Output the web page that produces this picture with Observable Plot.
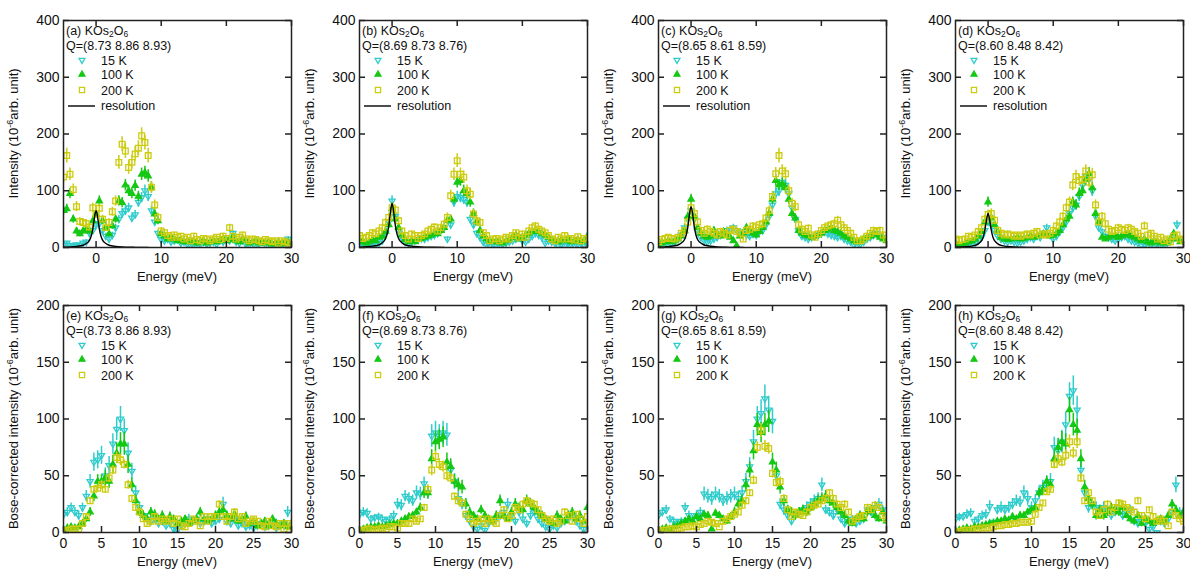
<!DOCTYPE html>
<html><head><meta charset="utf-8">
<script src="https://cdn.jsdelivr.net/npm/d3@7"></script>
<script src="https://cdn.jsdelivr.net/npm/@observablehq/plot@0.6"></script>
<style>
body{margin:0;background:#fff;}
#chart{position:relative;width:1190px;height:571px;font-family:"Liberation Sans",Arial,sans-serif;}
#chart svg{position:absolute;overflow:visible;}
</style></head><body><div id="chart"></div>
<script>
// ---------- energy grids (meV) ----------
const energyTop = [-5,-4.5,-4,-3.5,-3,-2.5,-2,-1.5,-1,-0.5,0,0.5,1,1.5,2,2.5,3,3.5,4,4.5,5,5.5,6,6.5,7,7.5,8,8.5,9,9.5,10,10.5,11,11.5,12,12.5,13,13.5,14,14.5,15,15.5,16,16.5,17,17.5,18,18.5,19,19.5,20,20.5,21,21.5,22,22.5,23,23.5,24,24.5,25,25.5,26,26.5,27,27.5,28,28.5,29,29.5,30];
const energyBottom = [0,0.5,1,1.5,2,2.5,3,3.5,4,4.5,5,5.5,6,6.5,7,7.5,8,8.5,9,9.5,10,10.5,11,11.5,12,12.5,13,13.5,14,14.5,15,15.5,16,16.5,17,17.5,18,18.5,19,19.5,20,20.5,21,21.5,22,22.5,23,23.5,24,24.5,25,25.5,26,26.5,27,27.5,28,28.5,29,29.5,30];
const xTicksTop = [0,10,20,30];
const xTicksBottom = [0,5,10,15,20,25,30];
const yTicksTop = [0,100,200,300,400];
const yTicksBottom = [0,50,100,150,200];
const temperatures = ["15 K","100 K","200 K"];
const panelLetters = ["a","b","c","d","e","f","g","h"];
const qValues = ["8.73 8.86 8.93","8.69 8.73 8.76","8.65 8.61 8.59","8.60 8.48 8.42","8.73 8.86 8.93","8.69 8.73 8.76","8.65 8.61 8.59","8.60 8.48 8.42"];

// ---------- (a) ----------
const I15a = [5,8,4,3,5,4,8,10,25,30, 40,42,30,20,15,22,35,50,60,65, 70,52,58,80,88,100,90,65,45,25, 14,12,15,10,12,14,8,10,6,4, 5,8,5,10,6,8,10,6,12,10, 15,12,25,10,8,12,6,5,8,4, 6,10,5,8,6,4,8,5,10,15, 8];
const I100a = [65,68,95,50,29,24,29,32,29,47, 59,82,47,35,24,38,50,82,79,110, 100,95,109,90,129,132,126,106,59,47, 24,20,15,18,15,12,14,10,12,10, 12,8,10,12,8,10,12,10,12,15, 12,14,18,12,10,15,12,8,10,12, 8,10,8,10,6,8,10,6,8,10, 8];
const I200a = [124,162,129,102,72,46,44,42,36,70, 59,69,50,35,44,63,82,150,182,170, 141,150,165,175,197,185,162,106,75,53, 29,26,21,18,22,18,20,15,18,12, 20,14,12,16,15,12,15,18,14,20, 16,35,20,15,18,22,15,12,15,14, 12,10,14,12,10,12,8,12,10,8, 5];
const E15a = [3,3,3,2,3,3,3,4,5,6, 6,6,6,5,4,5,6,7,8,8, 8,7,7,9,9,10,9,8,7,5, 4,4,4,4,4,4,3,4,3,3, 3,3,3,4,3,3,4,3,4,4, 4,4,5,4,3,4,3,3,3,3, 3,4,3,3,3,3,3,3,4,4, 3];
const E100a = [8,8,9,7,6,5,6,6,6,7, 7,9,7,6,5,6,7,9,9,10, 10,9,10,9,11,11,11,10,8,7, 5,5,4,5,4,4,4,4,4,4, 4,3,4,4,3,4,4,4,4,4, 4,4,5,4,4,4,4,3,4,4, 3,4,3,4,3,3,4,3,3,4, 3];
const E200a = [11,13,11,10,9,7,7,7,6,8, 8,8,7,6,7,8,9,12,13,13, 12,12,13,13,14,13,13,10,9,8, 6,5,5,5,5,5,5,4,5,4, 5,4,4,5,5,4,5,5,4,5, 5,6,5,4,5,5,4,4,4,4, 4,4,4,4,4,4,3,4,4,3, 3];
// ---------- (b) ----------
const I15b = [3,4,2,1,3,5,8,12,25,45, 82,55,30,18,10,8,10,12,14,16, 15,18,20,22,25,30,35,15,40,80, 90,88,85,80,50,40,25,18,10,5, 3,6,4,2,6,8,10,12,15,18, 12,10,15,20,25,22,18,8,12,10, 8,4,6,3,8,5,4,6,8,4, 5];
const I100b = [10,12,8,10,14,12,18,20,28,40, 68,50,35,22,14,10,12,10,14,16, 18,20,22,25,24,30,35,48,50,85, 115,118,100,95,80,60,45,30,20,15, 12,10,12,10,8,12,14,18,22,15, 18,22,25,28,30,28,25,22,18,14, 12,10,14,12,16,10,12,14,10,12, 20];
const I200b = [21,16,18,21,26,24,29,35,44,53, 70,66,47,29,21,15,24,21,16,21, 24,29,32,36,29,35,41,53,91,129, 153,129,124,100,94,59,47,44,26,21, 12,15,16,12,15,18,15,21,26,18, 24,18,29,35,38,32,29,26,21,15, 12,18,15,21,15,16,13,19,12,16, 15];
const E15b = [2,2,2,2,2,3,3,4,5,7, 9,7,6,4,3,3,3,4,4,4, 4,4,5,5,5,6,6,4,6,9, 9,9,9,9,7,6,5,4,3,3, 2,3,3,2,3,3,3,4,4,4, 4,3,4,4,5,5,4,3,4,3, 3,2,3,2,3,3,2,3,3,2, 3];
const E100b = [4,4,3,4,4,4,5,5,6,7, 9,8,6,5,4,4,4,4,4,4, 5,5,5,5,5,6,6,7,7,9, 10,10,10,9,9,8,7,6,5,4, 4,4,4,4,3,4,4,5,5,4, 5,5,5,5,6,5,5,5,5,4, 4,4,4,4,4,4,4,4,4,4, 5];
const E200b = [5,5,5,5,6,5,6,6,7,8, 9,8,7,6,5,4,5,5,5,5, 5,6,6,6,6,6,7,8,10,11, 12,11,11,10,10,8,7,7,5,5, 4,4,4,4,4,5,4,5,5,5, 5,5,6,6,6,6,6,5,5,4, 4,5,4,5,4,4,4,5,4,4, 4];
// ---------- (c) ----------
const I15c = [2,4,6,5,8,10,15,22,35,50, 65,50,30,18,12,10,12,15,18,22, 25,30,32,35,30,28,25,22,20,24, 22,28,30,40,55,75,95,100,115,110, 95,70,50,30,20,18,15,18,20,22, 25,28,24,22,20,18,20,15,12,10, 5,3,6,10,15,18,22,25,20,18, 15];
const I100c = [5,8,10,12,10,12,15,20,30,55, 85,55,35,25,20,18,20,30,25,20, 28,22,18,12,3,20,25,35,30,25, 22,28,35,45,60,85,118,110,112,105, 85,60,52,30,25,22,20,18,20,22, 25,30,32,35,30,28,25,20,18,15, 12,10,12,15,18,20,25,22,18,15, 12];
const I200c = [10,14,16,18,16,15,18,25,30,45, 70,60,45,30,25,32,28,25,22,28, 25,22,30,32,28,25,15,30,32,38, 35,40,42,52,65,90,130,162,135,130, 100,78,72,40,32,28,34,22,18,24, 30,35,38,40,42,48,40,35,30,25, 18,12,12,15,20,25,30,28,30,22, 15];
const E15c = [2,2,3,2,3,3,4,5,6,7, 8,7,6,4,4,3,4,4,4,5, 5,6,6,6,6,5,5,5,5,5, 5,5,6,6,7,9,10,10,10,10, 10,8,7,6,5,4,4,4,5,5, 5,5,5,5,5,4,5,4,4,3, 2,2,3,3,4,4,5,5,5,4, 4];
const E100c = [3,3,4,4,4,4,4,5,6,7, 9,7,6,5,5,4,5,6,5,5, 5,5,4,4,2,5,5,6,6,5, 5,5,6,7,8,9,10,10,10,10, 9,8,7,6,5,5,5,4,5,5, 5,6,6,6,6,5,5,5,4,4, 4,3,4,4,4,5,5,5,4,4, 4];
const E200c = [4,4,4,4,4,4,4,5,6,7, 9,8,7,6,5,6,6,5,5,6, 5,5,6,6,6,5,4,6,6,6, 6,6,7,7,8,9,11,13,11,11, 10,9,9,6,6,6,6,5,5,5, 6,6,6,6,7,7,6,6,6,5, 5,4,4,4,5,5,6,6,6,5, 4];
// ---------- (d) ----------
const I15d = [2,3,1,2,4,6,8,12,18,30, 45,40,30,20,15,12,10,12,10,8, 10,12,15,18,15,20,18,25,35,22, 15,20,28,35,45,60,70,75,90,110, 125,120,100,55,35,28,20,18,15,12, 15,18,20,15,12,10,8,5,6,4, 5,3,6,2,5,8,12,20,40,15, 10];
const I100d = [8,5,6,8,10,12,15,20,28,45, 80,52,40,28,18,15,14,15,16,18, 15,16,18,20,18,20,22,24,22,20, 22,25,30,40,50,55,80,75,95,100, 120,130,105,60,45,18,15,18,20,22, 18,20,22,25,20,18,15,12,15,10, 8,12,10,8,10,8,15,25,15,10, 12];
const I200d = [15,12,14,15,20,18,22,28,35,50, 58,60,48,30,25,22,24,22,20,22, 20,22,24,22,25,28,22,24,22,25, 30,38,45,55,70,80,110,125,118,120, 135,115,128,75,45,55,42,32,28,30, 35,32,30,35,32,28,25,20,38,22, 25,20,15,18,12,15,10,20,22,15, 12];
const E15d = [2,2,2,2,2,3,3,4,4,5, 7,6,5,4,4,3,3,4,3,3, 3,4,4,4,4,5,4,5,6,5, 4,5,5,6,7,8,8,9,9,10, 11,11,10,7,6,5,5,4,4,4, 4,4,5,4,4,3,3,2,3,2, 2,2,3,2,2,3,4,5,7,4, 3];
const E100d = [3,3,3,3,4,4,4,5,5,7, 9,7,6,5,4,4,4,4,4,4, 4,4,4,5,4,5,5,5,5,5, 5,5,6,6,7,7,9,9,10,10, 11,11,10,8,7,4,4,4,5,5, 4,5,5,5,5,4,4,4,4,3, 3,4,3,3,3,3,4,5,4,3, 4];
const E200d = [4,4,4,4,5,4,5,6,6,7, 8,8,7,6,5,5,5,5,5,5, 5,5,5,5,5,6,5,5,5,5, 6,6,7,7,8,9,10,11,10,10, 11,10,11,9,7,7,6,6,6,6, 6,6,6,6,6,6,5,5,7,5, 5,5,4,4,4,4,4,5,5,4, 4];
// ---------- (e) ----------
const I15e = [16,18,22,18,15,22,32,45,62,64, 68,50,59,78,91,100,90,70,54,35, 22,15,12,10,12,8,10,6,8,3, 2,6,8,12,10,12,8,10,12,8, 10,12,25,10,8,12,6,8,5,6, 4,6,8,5,6,10,4,6,8,18, 6];
const I100e = [2,4,5,4,5,8,12,18,32,45, 45,48,45,60,70,78,78,60,42,28, 18,15,12,18,16,12,15,10,14,12, 8,10,12,8,10,12,18,12,10,12, 15,18,20,15,12,16,10,12,14,8, 10,6,8,10,6,12,8,6,8,5, 8];
const I200e = [1,2,3,3,3,8,14,28,38,39, 42,38,48,55,66,64,60,42,30,22, 18,12,8,10,14,10,12,10,12,8, 12,6,5,8,12,10,6,14,10,14, 14,25,14,10,14,18,12,14,8,10, 12,10,6,5,10,6,5,8,3,8, 5];
const E15e = [4,4,4,4,4,4,5,6,8,8, 8,7,8,9,10,11,10,9,7,6, 5,4,4,4,4,3,4,3,3,2, 2,3,3,4,4,4,3,4,4,3, 4,4,6,4,3,4,3,3,3,3, 3,3,3,3,3,4,3,3,3,5, 3];
const E100e = [1,1,2,2,2,2,3,4,5,6, 6,7,6,8,9,10,10,8,6,5, 4,4,3,4,4,3,4,3,4,3, 3,3,3,3,3,3,4,3,3,3, 4,4,5,4,3,4,3,3,4,3, 3,3,3,3,3,3,3,3,3,3, 3];
const E200e = [1,1,1,1,1,2,2,3,3,3, 4,3,4,4,5,5,4,4,3,3, 3,2,2,2,2,2,2,2,2,2, 2,2,2,2,2,2,2,2,2,2, 2,3,2,2,2,3,2,2,2,2, 2,2,2,2,2,2,2,2,2,2, 2];
// ---------- (f) ----------
const I15f = [16,18,17,12,13,14,12,10,12,15, 25,24,32,30,28,35,34,43,35,85, 88,85,88,86,55,45,30,25,15,10, 5,3,6,2,8,10,12,15,18,25, 15,10,18,12,8,15,18,12,8,5, 3,6,4,8,10,12,15,10,6,3, 8];
const I100f = [1,3,4,5,5,6,5,6,7,8, 8,10,12,14,15,18,22,35,35,65, 80,82,84,62,58,45,42,40,25,18, 15,12,20,15,12,10,15,28,15,12, 18,25,22,20,28,25,22,18,15,12, 10,8,15,12,10,15,18,12,15,10, 22];
const I200f = [1,2,3,3,2,3,4,3,5,5, 4,8,8,8,12,10,12,22,38,55, 67,60,58,50,48,32,28,26,16,12, 8,10,12,8,12,10,8,15,20,12, 15,22,20,25,28,26,25,20,15,12, 10,12,8,10,18,15,10,16,12,8, 14];
const E15f = [4,4,4,3,3,3,3,3,3,4, 5,5,5,5,5,6,6,6,6,10, 10,10,10,10,8,7,6,5,4,3, 2,2,3,2,3,3,4,4,4,5, 4,3,4,4,3,4,4,4,3,2, 2,3,2,3,3,4,4,3,3,2, 3];
const E100f = [1,1,1,1,1,2,2,2,2,2, 2,2,3,3,3,3,4,5,5,8, 9,9,9,8,7,6,6,6,5,4, 3,3,4,3,3,3,4,5,4,3, 4,5,4,4,5,5,4,4,4,3, 3,3,4,3,3,4,4,3,4,3, 5];
const E200f = [1,1,1,1,1,1,1,1,1,1, 1,2,2,2,2,2,2,3,4,5, 5,5,5,4,4,3,3,3,2,2, 2,2,2,2,2,2,2,2,3,2, 2,3,3,3,3,3,3,3,2,2, 2,2,2,2,3,2,2,2,2,2, 2];
// ---------- (g) ----------
const I15g = [15,18,20,12,10,8,10,22,15,12, 15,18,34,32,30,34,32,28,30,32, 34,30,35,45,58,80,100,105,118,108, 98,50,25,20,15,10,15,18,20,22, 25,28,30,42,20,18,15,20,12,8, 10,12,8,10,12,20,18,22,25,20, 15];
const I100g = [2,3,4,3,5,6,8,10,12,10, 14,12,16,15,3,17,15,12,10,14, 18,25,28,42,55,72,95,88,95,98, 62,55,40,28,20,18,15,18,20,18, 22,25,28,30,32,28,26,22,18,15, 10,8,12,15,12,18,20,15,12,18, 10];
const I200g = [1,2,2,3,3,3,4,5,5,6, 5,7,8,10,9,8,5,10,12,14, 16,18,24,28,35,46,75,90,76,74, 52,44,45,30,20,14,18,16,15,18, 22,24,25,28,30,35,30,25,22,25, 18,10,12,14,15,22,20,24,22,15, 12];
const E15g = [4,4,4,3,3,3,3,4,4,3, 4,4,6,6,6,6,6,5,6,6, 6,6,6,7,8,10,11,12,12,12, 11,7,5,5,4,3,4,4,4,5, 5,5,5,6,4,4,4,4,3,3, 3,3,3,3,3,4,4,5,5,4, 4];
const E100g = [1,1,1,1,2,2,2,3,3,3, 3,3,3,3,1,3,3,3,3,3, 4,4,5,6,7,8,10,9,10,10, 8,7,6,5,4,4,4,4,4,4, 4,5,5,5,5,5,5,4,4,4, 3,3,3,4,3,4,4,4,3,4, 3];
const E200g = [1,1,1,1,1,1,1,1,1,1, 1,1,1,2,2,2,1,2,2,2, 2,2,3,3,3,4,5,6,5,5, 4,4,4,3,2,2,2,2,2,2, 2,2,3,3,3,3,3,3,2,3, 2,2,2,2,2,3,3,3,3,2, 2];
// ---------- (h) ----------
const I15h = [12,14,14,16,17,10,12,15,16,23, 9,20,22,20,22,25,28,27,35,30, 22,28,35,40,42,45,75,72,80,95, 120,125,108,55,35,22,25,22,20,22, 20,15,18,22,15,18,20,10,8,10, 8,3,5,0,10,8,12,18,42,18, 15];
const I100h = [1,2,3,4,3,5,5,6,7,8, 8,10,10,12,11,14,12,15,15,18, 20,22,35,38,45,42,65,75,80,78, 108,95,90,65,40,30,25,15,20,15, 18,22,20,18,22,15,12,10,15,8, 12,10,8,10,12,10,15,25,20,15, 18];
const I200h = [1,1,2,2,2,3,3,4,4,4, 5,6,6,7,7,8,8,9,9,9, 10,16,22,26,36,38,60,65,62,68, 80,70,80,48,28,35,28,18,15,20, 25,18,22,26,25,22,20,18,28,15, 12,20,14,10,12,10,6,18,15,12, 10];
const E15h = [3,3,3,4,4,3,3,4,4,5, 3,4,5,4,5,5,5,5,6,6, 5,5,6,6,7,7,9,9,10,11, 12,13,12,8,6,5,5,5,4,5, 4,4,4,5,4,4,4,3,3,3, 3,2,2,1,3,3,3,4,7,4, 4];
const E100h = [1,1,1,1,1,1,1,2,2,2, 2,2,2,2,2,3,2,3,3,3, 3,3,4,5,5,5,7,8,9,9, 11,10,10,8,6,5,5,4,4,4, 4,4,4,4,4,3,3,3,3,3, 3,3,3,3,3,3,3,4,4,3, 4];
const E200h = [1,1,1,1,1,1,1,1,1,1, 1,1,1,1,1,1,1,1,1,1, 1,2,2,2,3,3,4,5,4,5, 6,5,6,4,3,3,3,2,2,2, 3,2,2,3,3,2,2,2,3,2, 2,2,2,2,2,2,2,2,2,2, 2];

// ---------- resolution curves (top row) ----------
const resEnergy = [-5,-4,-3,-2,-1.5,-1,-0.75,-0.5,-0.25,0,0.25,0.5,0.75,1,1.5,2,3,4,5,6,8];
const resA = [0.5,1,2,4,7,13,20,33,52,65,52,33,20,13,7,4,2,1,0.5,0.3,0.1];
const resB = [0.6,1.2,2.4,4.8,8.4,16,24,39,62,78,62,39,24,16,8.4,4.8,2.4,1.2,0.6,0.4,0.1];
const resC = [0.6,1.1,2.2,4.4,7.8,14,22,36,58,72,58,36,22,14,7.8,4.4,2.2,1.1,0.6,0.3,0.1];
const resD = [0.5,0.9,1.8,3.7,6.5,12,18,30,48,60,48,30,18,12,6.5,3.7,1.8,0.9,0.5,0.3,0.1];

// ---------- styling ----------
const C15 = "#30cccc", C100 = "#14c814", C200 = "#cccc10";
const FONT = "'Liberation Sans', Arial, sans-serif";

const panelData = [
  {I:[I15a,I100a,I200a], E:[E15a,E100a,E200a], res:resA},
  {I:[I15b,I100b,I200b], E:[E15b,E100b,E200b], res:resB},
  {I:[I15c,I100c,I200c], E:[E15c,E100c,E200c], res:resC},
  {I:[I15d,I100d,I200d], E:[E15d,E100d,E200d], res:resD},
  {I:[I15e,I100e,I200e], E:[E15e,E100e,E200e]},
  {I:[I15f,I100f,I200f], E:[E15f,E100f,E200f]},
  {I:[I15g,I100g,I200g], E:[E15g,E100g,E200g]},
  {I:[I15h,I100h,I200h], E:[E15h,E100h,E200h]}
];

const bad = [];
panelData.forEach((p,k)=>{
  const n = (k<4?energyTop:energyBottom).length;
  p.I.forEach((a,j)=>{ if(a.length!==n) bad.push(panelLetters[k]+" I"+j+" "+a.length+"/"+n); });
  p.E.forEach((a,j)=>{ if(a.length!==n) bad.push(panelLetters[k]+" E"+j+" "+a.length+"/"+n); });
});
if (bad.length) throw new Error("length mismatch: "+bad.join("; "));

const symbols = [
  {color:C15, symbol:"triangle", rotate:180, fill:"none", r:2.3, lr:2.2},
  {color:C100, symbol:"triangle", rotate:0, fill:C100, r:2.3, lr:2.2},
  {color:C200, symbol:"square", rotate:0, fill:"none", r:3.2, lr:2.9}
];

const W = 297, H = 285, ML = 63, MR = 6, MT = 20, MB = 38;
const PW = W - ML - MR, PH = H - MT - MB;
const colSvgLeft = [0, 296, 595, 892];
const rowSvgTop = [0, 285];
const AX = "#222";
const LEG = 12.5;

const chart = document.getElementById("chart");

panelData.forEach((p, k) => {
  const row = k < 4 ? 0 : 1, col = k % 4;
  const energy = row === 0 ? energyTop : energyBottom;
  const xTicks = row === 0 ? xTicksTop : xTicksBottom;
  const yTicks = row === 0 ? yTicksTop : yTicksBottom;
  const marks = [];
  p.I.forEach((vals, j) => {
    const rows = energy.map((e, i) => ({e, v: vals[i], err: p.E[j][i]}));
    const s = symbols[j];
    marks.push(Plot.ruleX(rows, {x: "e", y1: d => d.v - d.err, y2: d => d.v + d.err, stroke: s.color, strokeWidth: 1.5, clip: true}));
    marks.push(Plot.dot(rows, {x: "e", y: "v", symbol: () => s.symbol, rotate: s.rotate, r: s.r, stroke: s.color, fill: s.fill, strokeWidth: 1.3, clip: true}));
  });
  if (p.res) {
    const rr = resEnergy.map((e, i) => ({e, v: p.res[i]}));
    marks.push(Plot.line(rr, {x: "e", y: "v", stroke: "#000", strokeWidth: 1.4, curve: "monotone-x", clip: true}));
  }
  marks.push(Plot.frame({stroke: AX, strokeWidth: 1.5}));
  marks.push(Plot.tickY(yTicks, {y: d => d, insetRight: PW - 6, stroke: AX, strokeWidth: 1.5}));
  marks.push(Plot.tickY(yTicks, {y: d => d, insetLeft: PW - 6, stroke: AX, strokeWidth: 1.5}));
  marks.push(Plot.tickX(xTicks, {x: d => d, insetBottom: PH - 6, stroke: AX, strokeWidth: 1.5}));
  marks.push(Plot.tickX(xTicks, {x: d => d, insetTop: PH - 6, stroke: AX, strokeWidth: 1.5}));
  marks.push(Plot.axisY({ticks: yTicks, tickSize: 0, tickPadding: 4, label: null, tickFormat: d => String(d)}));
  marks.push(Plot.axisX({ticks: xTicks, tickSize: 0, tickPadding: 6, label: null, tickFormat: d => String(d)}));

  const svg = Plot.plot({
    width: W, height: H,
    marginLeft: ML, marginRight: MR, marginTop: MT, marginBottom: MB,
    x: {domain: row === 0 ? [-5, 30] : [0, 30]},
    y: {domain: row === 0 ? [0, 400] : [0, 200]},
    style: {fontSize: "14px", fontFamily: FONT, color: "#111", background: "none", overflow: "visible"},
    marks
  });
  svg.style.left = colSvgLeft[col] + "px";
  svg.style.top = rowSvgTop[row] + "px";
  chart.appendChild(svg);

  const g = d3.select(svg).append("g").attr("font-family", FONT).attr("font-size", 13)
    .attr("fill", "#111").attr("text-anchor", "start");
  // y label
  const yl = g.append("text").attr("transform", `translate(${ML - 45},${MT + PH / 2}) rotate(-90)`).attr("text-anchor", "middle");
  yl.append("tspan").text(row === 0 ? "Intensity (10" : "Bose-corrected intensity (10");
  yl.append("tspan").attr("dy", -5).attr("font-size", 9).text("-6");
  yl.append("tspan").attr("dy", 5).text("arb. unit)");
  // x label
  g.append("text").attr("x", ML + PW / 2).attr("y", MT + PH + 34).attr("text-anchor", "middle").text("Energy (meV)");
  // legend
  const lg = g.append("g").attr("font-size", LEG);
  const lx = ML + 3;
  const t1 = lg.append("text").attr("x", lx).attr("y", MT + 15);
  t1.append("tspan").text(`(${panelLetters[k]}) KOs`);
  t1.append("tspan").attr("dy", 1.5).attr("font-size", 8.5).text("2");
  t1.append("tspan").attr("dy", -1.5).text("O");
  t1.append("tspan").attr("dy", 1.5).attr("font-size", 8.5).text("6");
  lg.append("text").attr("x", lx).attr("y", MT + 29.6).text(`Q=(${qValues[k]})`);
  const baselines = [44.5, 59, 74.5];
  temperatures.forEach((t, j) => {
    const s = symbols[j];
    const by = MT + baselines[j];
    const sym = s.symbol === "square" ? d3.symbolSquare : d3.symbolTriangle;
    lg.append("path").attr("d", d3.symbol(sym, Math.PI * s.lr * s.lr)())
      .attr("transform", `translate(${ML + 19},${by - 4.5}) rotate(${s.rotate})`)
      .attr("fill", s.fill).attr("stroke", s.color).attr("stroke-width", 1.3);
    lg.append("text").attr("x", ML + 38).attr("y", by).text(t);
  });
  if (p.res) {
    const by = MT + 90;
    lg.append("line").attr("x1", ML + 5).attr("x2", ML + 32).attr("y1", by - 4).attr("y2", by - 4).attr("stroke", "#000").attr("stroke-width", 1.4);
    lg.append("text").attr("x", ML + 38).attr("y", by).text("resolution");
  }
});
</script></body></html>
